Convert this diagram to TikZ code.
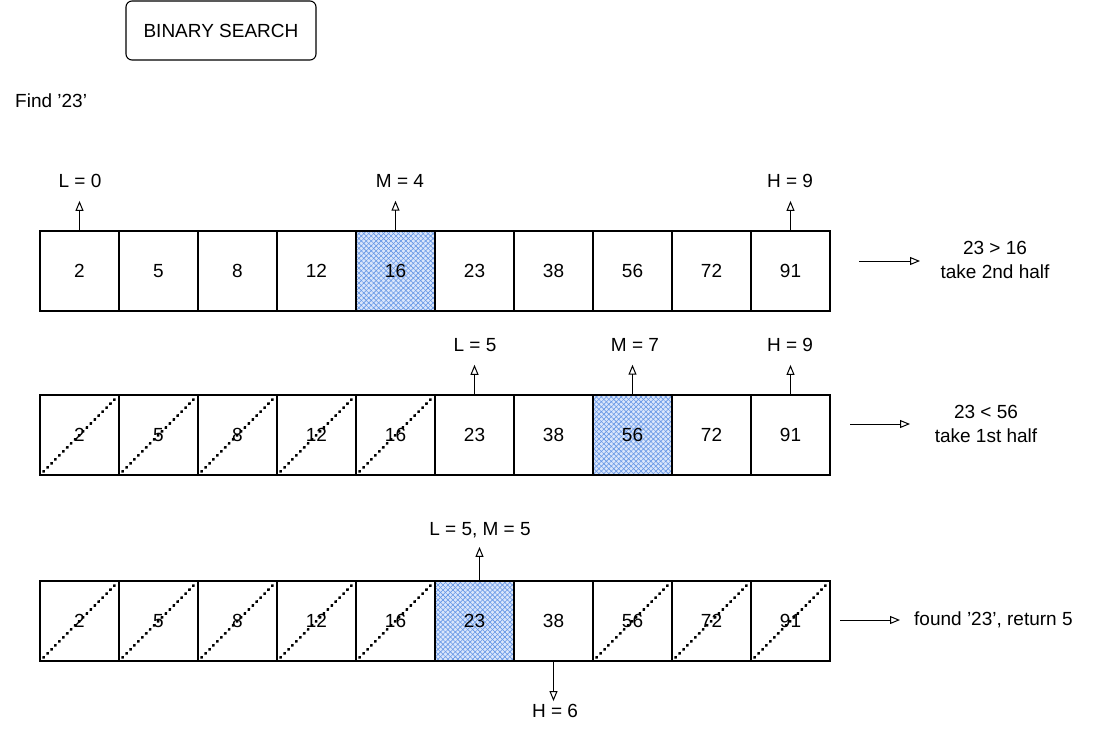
\documentclass[tikz,border=0pt]{standalone}
\usepackage{fontspec}
\setmainfont{Liberation Sans}
\usetikzlibrary{arrows.meta,patterns.meta}
\definecolor{hatch}{RGB}{100,150,230}
\definecolor{hatchbg}{RGB}{218,230,251}
\begin{document}
\begin{tikzpicture}[x=1pt,y=-1pt,
  font=\fontsize{19}{24}\selectfont,
  cell/.style={draw, line width=1.1pt, minimum width=79pt, minimum height=80pt, inner sep=0pt},
  hl/.style={preaction={fill=hatchbg},
    preaction={pattern={Lines[angle=45,distance=3.5pt,line width=0.6pt]}, pattern color=hatch},
    preaction={pattern={Lines[angle=-45,distance=3.5pt,line width=0.6pt]}, pattern color=hatch}},
  lbl/.style={inner sep=0pt},
  arr/.style={-{Triangle[open,length=10pt,width=8pt,line width=1pt]}, line width=1pt},
  diag/.style={line width=3pt, line cap=round, dash pattern=on 0.6pt off 5pt}]
\useasboundingbox (0,0) rectangle (1112,731);

\node[draw, line width=1.1pt, rounded corners=6pt, minimum width=190pt, minimum height=59pt] (title) at (221,30.5) {BINARY SEARCH};
\node[anchor=west, inner sep=0pt] (find) at (15,101) {Find '23'};

% row 1
\foreach \v [count=\i from 0] in {2,5,8,12,16,23,38,56,72,91} {
  \ifnum\i=4
    \node[cell,hl] (a\i) at ({79.5+79*\i},271) {\v};
  \else
    \node[cell] (a\i) at ({79.5+79*\i},271) {\v};
  \fi
}
% row 2
\foreach \v [count=\i from 0] in {2,5,8,12,16,23,38,56,72,91} {
  \ifnum\i=7
    \node[cell,hl] (b\i) at ({79.5+79*\i},435) {\v};
  \else
    \node[cell] (b\i) at ({79.5+79*\i},435) {\v};
  \fi
}
% row 3
\foreach \v [count=\i from 0] in {2,5,8,12,16,23,38,56,72,91} {
  \ifnum\i=5
    \node[cell,hl] (c\i) at ({79.5+79*\i},621) {\v};
  \else
    \node[cell] (c\i) at ({79.5+79*\i},621) {\v};
  \fi
}

% crossed-out cells
\foreach \n in {b0,b1,b2,b3,b4,c0,c1,c2,c3,c4,c7,c8,c9}
  \draw[diag] ([shift={(4,-4)}]\n.south west) -- ([shift={(-4,4)}]\n.north east);

% pointer labels
\node[lbl] (l1) at (80,181) {L = 0};
\node[lbl] (m1) at (400,181) {M = 4};
\node[lbl] (h1) at (790,181) {H = 9};
\draw[arr, shorten >=13pt] (a0.north) -- (a0.north |- l1.south);
\draw[arr, shorten >=13pt] (a4.north) -- (a4.north |- m1.south);
\draw[arr, shorten >=13pt] (a9.north) -- (a9.north |- h1.south);

\node[lbl] (l2) at (475,345) {L = 5};
\node[lbl] (m2) at (635,345) {M = 7};
\node[lbl] (h2) at (790,345) {H = 9};
\draw[arr, shorten >=13pt] (b5.north) -- (b5.north |- l2.south);
\draw[arr, shorten >=13pt] (b7.north) -- (b7.north |- m2.south);
\draw[arr, shorten >=13pt] (b9.north) -- (b9.north |- h2.south);

\node[lbl] (l3) at (480,530) {L = 5, M = 5};
\draw[arr, shorten >=9pt] ([xshift=5pt]c5.north) -- ([xshift=5pt]c5.north |- l3.south);
\node[lbl] (h3) at (555,711) {H = 6};
\draw[arr, shorten >=3pt] (c6.south) -- (c6.south |- h3.north);

% right-hand notes
\node[lbl, align=center] (t1) at (995,260) {23 > 16\\take 2nd half};
\node[lbl, align=center] (t2) at (986,424) {23 < 56\\take 1st half};
\node[lbl, anchor=west] (t3) at (914,620) {found '23', return 5};
\coordinate (s1) at (859,261);
\coordinate (s2) at (850,424);
\coordinate (s3) at (840,620);
\draw[arr] (s1) -- (s1 -| 920,0);
\draw[arr] (s2) -- (s2 -| 910,0);
\draw[arr] (s3) -- (s3 -| 900,0);
\end{tikzpicture}
\end{document}
